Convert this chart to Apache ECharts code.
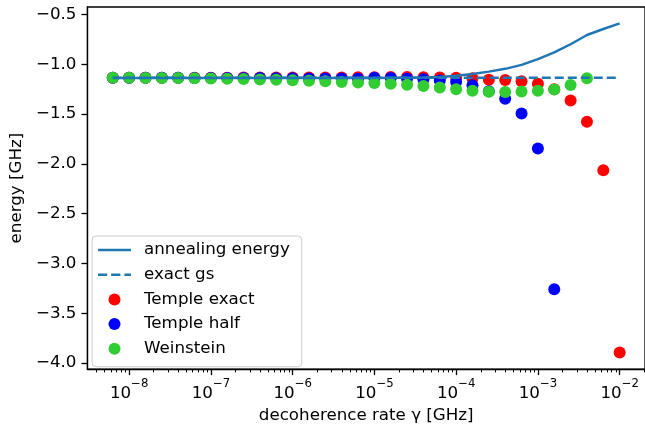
<!DOCTYPE html>
<html>
<head>
<meta charset="utf-8">
<script src="https://cdn.jsdelivr.net/npm/echarts@6/dist/echarts.min.js"></script>
<style>
html, body { margin: 0; padding: 0; background: #fff; }
#chart { width: 645px; height: 429px; }
</style>
</head>
<body>
<div id="chart"></div>
<script>
// decoherence rates [GHz]
const gammas = [
  6.31e-9, 1e-8, 1.585e-8, 2.512e-8, 3.981e-8, 6.31e-8,
  1e-7, 1.585e-7, 2.512e-7, 3.981e-7, 6.31e-7,
  1e-6, 1.585e-6, 2.512e-6, 3.981e-6, 6.31e-6,
  1e-5, 1.585e-5, 2.512e-5, 3.981e-5, 6.31e-5,
  1e-4, 1.585e-4, 2.512e-4, 3.981e-4, 6.31e-4,
  1e-3, 1.585e-3, 2.512e-3, 3.981e-3, 6.31e-3,
  1e-2
];
const annealingEnergy = [
  -1.136, -1.136, -1.136, -1.136, -1.136, -1.136, -1.136, -1.136,
  -1.136, -1.136, -1.136, -1.136, -1.136, -1.136, -1.136, -1.136,
  -1.136, -1.135, -1.134, -1.131, -1.126, -1.114, -1.096, -1.073,
  -1.045, -1.005, -0.948, -0.880, -0.798, -0.705, -0.645, -0.589
];
const exactGs = -1.135;
const templeExact = [
  -1.134, -1.134, -1.134, -1.134, -1.134, -1.134, -1.134, -1.134,
  -1.133, -1.133, -1.133, -1.133, -1.132, -1.132, -1.131, -1.130,
  -1.129, -1.128, -1.128, -1.130, -1.132, -1.134, -1.140, -1.155,
  -1.158, -1.170, -1.194, -1.250, -1.362, -1.577, -2.063, -3.893
];
const templeHalf = [
  -1.134, -1.134, -1.135, -1.135, -1.135, -1.136, -1.136, -1.137,
  -1.137, -1.138, -1.139, -1.140, -1.141, -1.142, -1.143, -1.144,
  -1.135, -1.137, -1.144, -1.150, -1.161, -1.177, -1.210, -1.270,
  -1.345, -1.494, -1.845, -3.258
];
const weinstein = [
  -1.134, -1.135, -1.136, -1.137, -1.138, -1.140, -1.142, -1.145,
  -1.148, -1.151, -1.155, -1.160, -1.165, -1.170, -1.176, -1.181,
  -1.187, -1.194, -1.204, -1.218, -1.233, -1.250, -1.264, -1.274,
  -1.277, -1.272, -1.266, -1.253, -1.207, -1.140
];
const xTickExps = [-8, -7, -6, -5, -4, -3, -2];
const yTicks = [-4.0, -3.5, -3.0, -2.5, -2.0, -1.5, -1.0, -0.5];

const FONT = 'DejaVu Sans';
const FS = 16.7;

// x is drawn on a linear axis over log10(gamma)
const lg = (g) => Math.log10(g);
const pairs = (vals) => vals.map((v, i) => [lg(gammas[i]), v]);

const xMin = -8.51, xMax = -1.69;
const minorTicks = [];
for (let n = -9; n <= -2; n++) {
  for (let k = 2; k <= 9; k++) {
    const v = Math.log10(k) + n;
    if (v > xMin && v < xMax) minorTicks.push(v);
  }
}

const minus = (s) => String(s).replace('-', '\u2212');

// legend handles drawn like matplotlib line handles
const solidIcon = 'path://M0,0h33v2.5H0z';
const dashedIcon = 'path://M0,0h9.2v2.5H0zM13.2,0h9.2v2.5h-9.2zM26.4,0h6.6v2.5h-6.6z';

const chart = echarts.init(document.getElementById('chart'));
chart.setOption({
  animation: false,
  textStyle: { fontFamily: FONT },
  grid: {
    left: 83, top: 7, width: 564, height: 368,
    show: true, borderColor: '#000', borderWidth: 1.3, backgroundColor: 'transparent'
  },
  legend: {
    orient: 'vertical',
    left: 92, top: 236,
    padding: [4, 12, 8, 6],
    itemWidth: 33, itemHeight: 12, itemGap: 4.7,
    backgroundColor: 'rgba(255,255,255,0.8)',
    borderColor: '#cccccc', borderWidth: 1, borderRadius: 4,
    textStyle: { fontFamily: FONT, fontSize: FS, color: '#000', lineHeight: 20, padding: [0, 0, 0, 8] },
    data: [
      { name: 'annealing energy', icon: solidIcon },
      { name: 'exact gs', icon: dashedIcon },
      { name: 'Temple exact', icon: 'circle' },
      { name: 'Temple half', icon: 'circle' },
      { name: 'Weinstein', icon: 'circle' }
    ]
  },
  xAxis: [
    {
      type: 'value', min: xMin, max: xMax,
      name: 'decoherence rate \u03b3 [GHz]', nameLocation: 'middle', nameGap: 27,
      nameTextStyle: { fontFamily: FONT, fontSize: FS, color: '#000' },
      axisLine: { lineStyle: { color: '#000', width: 1.3 } },
      axisTick: { inside: false, length: 6, customValues: xTickExps, lineStyle: { color: '#000', width: 1.3 } },
      axisLabel: {
        customValues: xTickExps, margin: 9,
        formatter: (v) => '{a|10}{b|' + minus(Math.round(v)) + '}',
        rich: {
          a: { fontFamily: FONT, fontSize: FS, color: '#000', lineHeight: 24, verticalAlign: 'bottom' },
          b: { fontFamily: FONT, fontSize: 11.7, color: '#000', lineHeight: 14, verticalAlign: 'top' }
        }
      },
      splitLine: { show: false }
    },
    {
      type: 'value', min: xMin, max: xMax, position: 'bottom', gridIndex: 0,
      axisLine: { show: false },
      axisTick: { length: 3.3, customValues: minorTicks, lineStyle: { color: '#000', width: 1 } },
      axisLabel: { show: false },
      splitLine: { show: false }
    }
  ],
  yAxis: {
    type: 'value', min: -4.06, max: -0.424,
    name: 'energy [GHz]', nameLocation: 'middle', nameGap: 55,
    nameTextStyle: { fontFamily: FONT, fontSize: FS, color: '#000' },
    axisLine: { show: true, lineStyle: { color: '#000', width: 1.3 } },
    axisTick: { show: true, length: 6, customValues: yTicks, lineStyle: { color: '#000', width: 1.3 } },
    axisLabel: {
      customValues: yTicks, margin: 11,
      fontFamily: FONT, fontSize: FS, color: '#000',
      formatter: (v) => minus(v.toFixed(1))
    },
    splitLine: { show: false }
  },
  series: [
    {
      name: 'annealing energy', type: 'line', z: 5,
      data: pairs(annealingEnergy),
      symbol: 'none', color: '#1f77b4',
      lineStyle: { color: '#1f77b4', width: 2.5 }
    },
    {
      name: 'exact gs', type: 'line', z: 5,
      data: [[lg(gammas[0]), exactGs], [lg(gammas[gammas.length - 1]), exactGs]],
      symbol: 'none', color: '#1f77b4',
      lineStyle: { color: '#1f77b4', width: 2.5, type: [9, 4] }
    },
    {
      name: 'Temple exact', type: 'scatter', z: 2,
      data: pairs(templeExact), symbolSize: 12, itemStyle: { color: '#ff0000', opacity: 1 }
    },
    {
      name: 'Temple half', type: 'scatter', z: 2,
      data: pairs(templeHalf), symbolSize: 12, itemStyle: { color: '#0000ff', opacity: 1 }
    },
    {
      name: 'Weinstein', type: 'scatter', z: 2,
      data: pairs(weinstein), symbolSize: 12, itemStyle: { color: '#32cd32', opacity: 1 }
    }
  ]
});
</script>
</body>
</html>
